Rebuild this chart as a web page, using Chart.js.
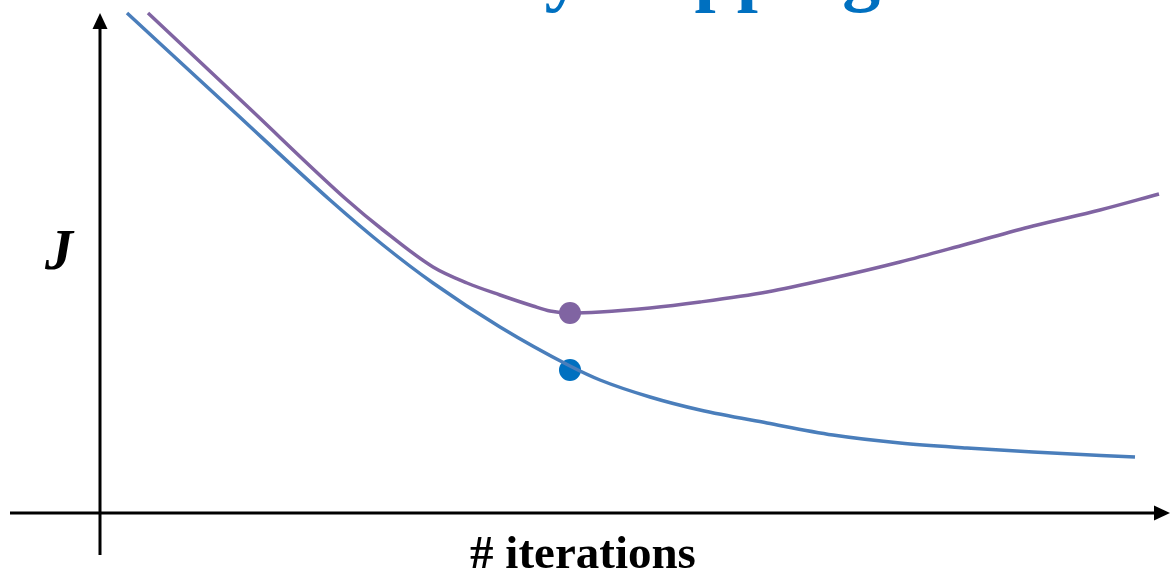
<!DOCTYPE html>
<html lang="en">
<head>
  <meta charset="UTF-8" />
  <title>Early stopping</title>
  <script src="https://cdn.jsdelivr.net/npm/chart.js"></script>
  <style>
    html, body { margin: 0; padding: 0; background: #fff; overflow: hidden; }
    canvas { display: block; }
  </style>
</head>
<body>
  <canvas id="chart" width="1170" height="577"></canvas>

  <script>
    // training cost (blue)
    const trainIters = [2.7, 13, 23, 28.3, 33.3, 40, 47, 50, 55, 60, 66.7, 73.3, 80, 86.7, 93.3, 103.5];
    const trainCost  = [100, 81, 62.6, 53.6, 46, 37.2, 29.4, 26.6, 23.2, 20.6, 18, 15.6, 14, 13, 12.2, 11.2];

    // validation cost (purple)
    const valIters = [4.8, 14.7, 24.7, 28.3, 33.3, 36.7, 40, 43.3, 45, 47, 50, 55, 60, 66.7, 73.3, 80, 86.7, 93.3, 100, 105.9];
    const valCost  = [100, 81.4, 62.6, 56.6, 49.2, 46, 43.6, 41.4, 40.4, 40, 40.2, 41, 42.2, 44.2, 47, 50.2, 53.8, 57.4, 60.6, 63.8];

    // early stopping markers
    const stopIter = 47;
    const stopVal = 40;
    const stopTrain = 28.6;

    const titleText = 'Early stopping';
    const xLabel = '# iterations';
    const yLabel = 'J';

    const toPoints = (xs, ys) => xs.map((x, i) => ({ x, y: ys[i] }));

    // axes with arrow heads + labels + clipped title
    const axesPlugin = {
      id: 'axes',
      beforeDatasetsDraw(chart) {
        const { ctx } = chart;
        const xs = chart.scales.x, ys = chart.scales.y;
        const ox = xs.getPixelForValue(0), oy = ys.getPixelForValue(0);
        const xStart = xs.getPixelForValue(-9), xEnd = xs.getPixelForValue(107);
        const yBottom = ys.getPixelForValue(-8.4), yTop = ys.getPixelForValue(100);
        ctx.save();
        ctx.strokeStyle = '#000';
        ctx.fillStyle = '#000';
        ctx.lineWidth = 3;
        ctx.beginPath();
        ctx.moveTo(xStart, oy); ctx.lineTo(xEnd - 14, oy);
        ctx.moveTo(ox, yBottom); ctx.lineTo(ox, yTop + 14);
        ctx.stroke();
        // arrow up
        ctx.beginPath();
        ctx.moveTo(ox, yTop);
        ctx.lineTo(ox - 7.5, yTop + 16);
        ctx.lineTo(ox + 7.5, yTop + 16);
        ctx.closePath();
        ctx.fill();
        // arrow right
        ctx.beginPath();
        ctx.moveTo(xEnd, oy);
        ctx.lineTo(xEnd - 16, oy - 7.5);
        ctx.lineTo(xEnd - 16, oy + 7.5);
        ctx.closePath();
        ctx.fill();
        ctx.restore();
      },
      afterDraw(chart) {
        const { ctx } = chart;
        ctx.save();
        ctx.fillStyle = '#000';
        ctx.textBaseline = 'alphabetic';
        ctx.textAlign = 'center';
        ctx.font = 'bold 47px "Liberation Serif", "Times New Roman", serif';
        ctx.fillText(xLabel, 583, 568);
        ctx.font = 'italic bold 56px "Liberation Serif", "Times New Roman", serif';
        ctx.fillText(yLabel, 59, 269);
        ctx.textAlign = 'left';
        ctx.fillStyle = '#0070C0';
        ctx.font = 'bold 76px "Liberation Serif", "Times New Roman", serif';
        ctx.fillText(titleText, 401, -3);
        ctx.restore();
      }
    };

    new Chart(document.getElementById('chart'), {
      type: 'line',
      data: {
        datasets: [
          {
            label: 'train',
            data: toPoints(trainIters, trainCost),
            borderColor: '#4A7EBB',
            borderWidth: 3.5,
            pointRadius: 0,
            cubicInterpolationMode: 'monotone',
            fill: false
          },
          {
            label: 'validation',
            data: toPoints(valIters, valCost),
            borderColor: '#8064A2',
            borderWidth: 3.5,
            pointRadius: 0,
            cubicInterpolationMode: 'monotone',
            fill: false
          },
          {
            label: 'stop val',
            data: [{ x: stopIter, y: stopVal }],
            showLine: false,
            pointRadius: 11,
            pointBackgroundColor: '#8064A2',
            pointBorderWidth: 0
          },
          {
            label: 'stop train',
            data: [{ x: stopIter, y: stopTrain }],
            showLine: false,
            pointRadius: 11,
            pointBackgroundColor: '#0070C0',
            pointBorderWidth: 0
          }
        ]
      },
      options: {
        responsive: false,
        animation: false,
        layout: { padding: 0, autoPadding: false },
        plugins: {
          legend: { display: false },
          tooltip: { enabled: false }
        },
        scales: {
          x: { type: 'linear', min: -10, max: 107, display: false },
          y: { type: 'linear', min: -12.8, max: 102.6, display: false }
        }
      },
      plugins: [axesPlugin]
    });
  </script>
</body>
</html>
